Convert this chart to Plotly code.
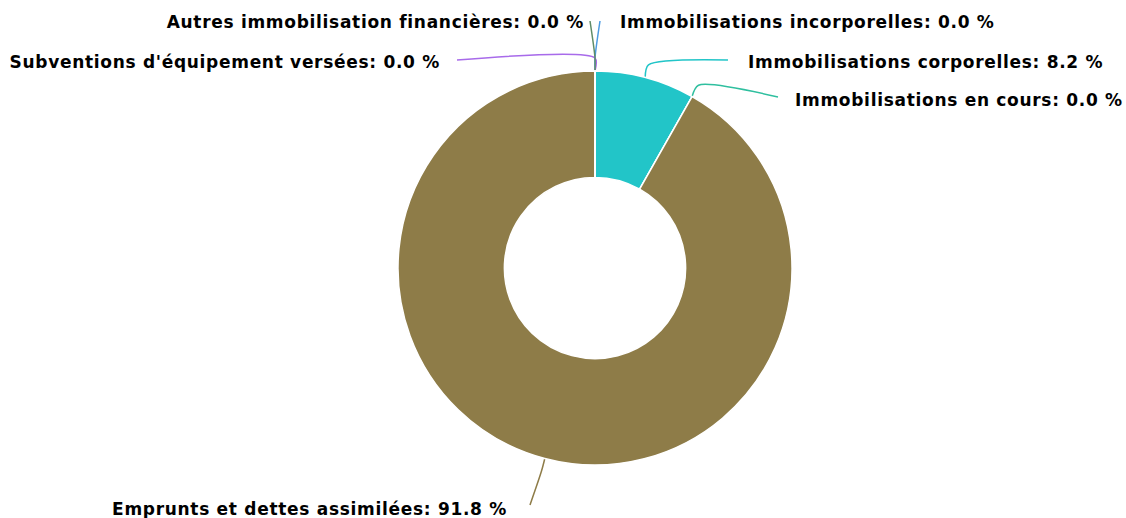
import math
import plotly.graph_objects as go

# data (clockwise from 12 o'clock)
labels = [
    'Immobilisations incorporelles',
    'Immobilisations corporelles',
    'Immobilisations en cours',
    'Emprunts et dettes assimilées',
    "Subventions d'équipement versées",
    'Autres immobilisation financières',
]
values = [0.0, 8.2, 0.0, 91.8, 0.0, 0.0]
colors = ['#4C9BE2', '#22C5C8', '#2FBF9F', '#8E7C48', '#A86BEA', '#5F8C68']

# layout geometry (pixels)
W, H = 1126, 518
CX, CY, R = 595, 268, 197
HOLE = 0.46
FONT = dict(family='DejaVu Sans', size=17, color='#000000')

# label anchors: x, y, side, connector end x, end y
label_pos = [
    (619, 22, 'left', 600, 21),
    (747, 62, 'left', 728, 60),
    (794, 100, 'left', 778, 97),
    (508, 509, 'right', 530, 505),
    (441, 62, 'right', 457, 60),
    (585, 22, 'right', 590, 21),
]

fig = go.Figure()

fig.add_trace(go.Pie(
    labels=labels,
    values=values,
    marker=dict(colors=colors, line=dict(color='#FFFFFF', width=1.5)),
    hole=HOLE,
    sort=False,
    direction='clockwise',
    rotation=0,
    textinfo='none',
    showlegend=False,
    domain=dict(x=[(CX - R) / W, (CX + R) / W],
                y=[1 - (CY + R) / H, 1 - (CY - R) / H]),
))

total = sum(values)
cum = 0.0
annotations = []
for name, v, col, (lx, ly, side, ex, ey) in zip(labels, values, colors, label_pos):
    frac_mid = (cum + v / 2) / total
    cum += v
    theta = 2 * math.pi * frac_mid
    sx, sy = math.sin(theta), -math.cos(theta)
    p0 = (CX + R * sx, CY + R * sy)
    p1 = (CX + (R + 13) * sx, CY + (R + 13) * sy)
    fig.add_trace(go.Scatter(
        x=[p0[0], p1[0], ex], y=[p0[1], p1[1], ey],
        mode='lines', line=dict(color=col, width=1.5, shape='spline', smoothing=0.8),
        hoverinfo='skip', showlegend=False,
    ))
    pct = v / total * 100
    annotations.append(dict(
        x=lx, y=ly, xref='x', yref='y', showarrow=False,
        xanchor=side, yanchor='middle', align=side,
        width=470, borderpad=0,
        text=f'<span style="letter-spacing:0.7px"><b>{name}: {pct:.1f} %</b></span>',
        font=FONT,
    ))

fig.update_layout(
    width=W, height=H,
    margin=dict(l=0, r=0, t=0, b=0),
    paper_bgcolor='#FFFFFF',
    plot_bgcolor='rgba(0,0,0,0)',
    xaxis=dict(range=[0, W], visible=False, fixedrange=True),
    yaxis=dict(range=[H, 0], visible=False, fixedrange=True),
    annotations=annotations,
)

# drop the default body margin so the figure fills the window exactly
fig.write_html("out.html",
               config={'displayModeBar': False},
               post_script="document.body.style.margin='0';"
                           "document.body.style.overflow='hidden';")
